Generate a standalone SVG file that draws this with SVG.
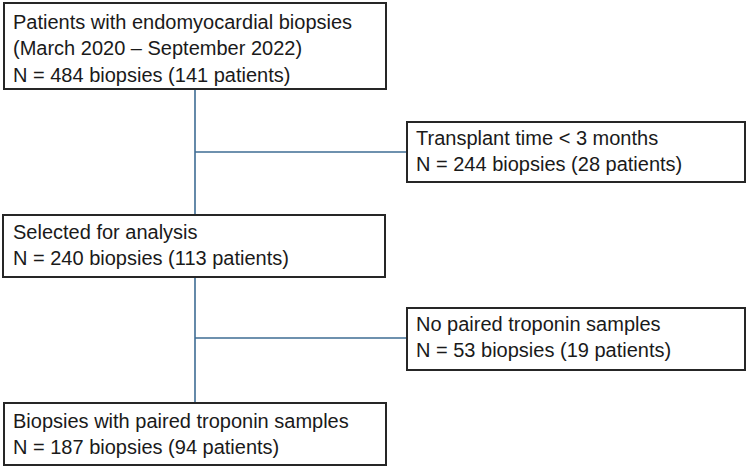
<svg xmlns="http://www.w3.org/2000/svg" width="749" height="468" viewBox="0 0 749 468">
<style>
.box{fill:#fff;stroke:#262626;stroke-width:2}
.t{font-family:"Liberation Sans",Arial,sans-serif;font-size:20px;fill:#1a1a1a}
.c{stroke:#3f6d94;stroke-width:1.6;fill:none}
</style>
<rect width="749" height="468" fill="#fff"/>
<g id="connectors">
<path class="c" d="M195 89V215M195 152H407M195 277V403M195 338H407"/>
</g>
<g id="n1">
<rect class="box" x="4" y="3" width="382" height="86"/>
<text class="t" x="13" y="29">Patients with endomyocardial biopsies</text>
<text class="t" x="13" y="55">(March 2020 – September 2022)</text>
<text class="t" x="13" y="82">N = 484 biopsies (141 patients)</text>
</g>
<g id="n2">
<rect class="box" x="407" y="122" width="338" height="60"/>
<text class="t" x="416" y="145">Transplant time &lt; 3 months</text>
<text class="t" x="416" y="171">N = 244 biopsies (28 patients)</text>
</g>
<g id="n3">
<rect class="box" x="3" y="215" width="382" height="62"/>
<text class="t" x="13" y="239">Selected for analysis</text>
<text class="t" x="13" y="265">N = 240 biopsies (113 patients)</text>
</g>
<g id="n4">
<rect class="box" x="407" y="308" width="338" height="62"/>
<text class="t" x="416" y="331">No paired troponin samples</text>
<text class="t" x="416" y="357">N = 53 biopsies (19 patients)</text>
</g>
<g id="n5">
<rect class="box" x="4" y="403" width="382" height="62"/>
<text class="t" x="13" y="428">Biopsies with paired troponin samples</text>
<text class="t" x="13" y="454">N = 187 biopsies (94 patients)</text>
</g>
</svg>
